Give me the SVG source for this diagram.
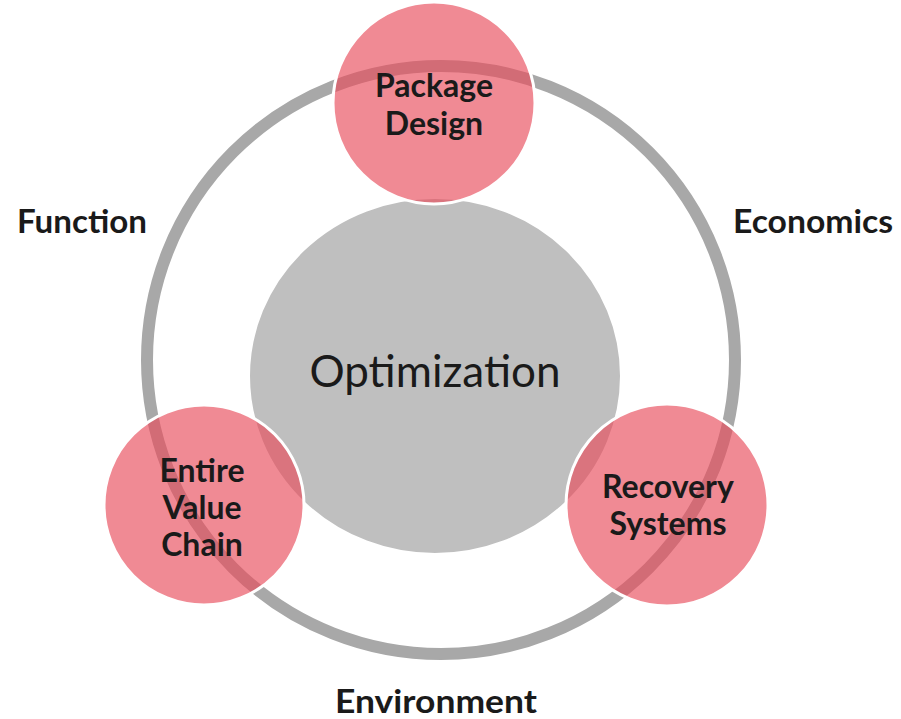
<svg xmlns="http://www.w3.org/2000/svg" width="901" height="719" viewBox="0 0 901 719">
<style>
.pink{fill:#E84B5A;fill-opacity:0.65;stroke:#ffffff;stroke-width:3}
.lbl{font-family:Lato,"Open Sans","Liberation Sans",sans-serif;font-weight:bold;fill:#1a1a1a;text-anchor:middle;font-size:32px}
.side{font-family:Lato,"Open Sans","Liberation Sans",sans-serif;font-weight:bold;fill:#1a1a1a;font-size:33px}
</style>
<rect width="901" height="719" fill="#ffffff"/>
<g id="ring">
<circle cx="441" cy="360" r="294" fill="none" stroke="#A8A8A8" stroke-width="12"/>
</g>
<g id="optimization">
<ellipse cx="435" cy="376" rx="186" ry="178" fill="#BFBFBF" stroke="#ffffff" stroke-width="2"/>
<text x="435" y="387" font-family="Lato,'Open Sans','Liberation Sans',sans-serif" font-size="44" fill="#1a1a1a" text-anchor="middle">Optimization</text>
</g>
<g id="package-design">
<circle class="pink" cx="434" cy="103" r="101"/>
<text class="lbl"><tspan x="434" y="97">Package</tspan><tspan x="434" y="135">Design</tspan></text>
</g>
<g id="entire-value-chain">
<circle class="pink" cx="204" cy="505" r="100"/>
<text class="lbl"><tspan x="202" y="482">Entire</tspan><tspan x="202" y="519">Value</tspan><tspan x="202" y="556">Chain</tspan></text>
</g>
<g id="recovery-systems">
<circle class="pink" cx="667" cy="505" r="101"/>
<text class="lbl"><tspan x="668" y="498">Recovery</tspan><tspan x="668" y="535">Systems</tspan></text>
</g>
<g id="function"><text class="side" x="17" y="233" textLength="130" lengthAdjust="spacingAndGlyphs">Function</text></g>
<g id="economics"><text class="side" x="733" y="233" textLength="160" lengthAdjust="spacingAndGlyphs">Economics</text></g>
<g id="environment"><text class="side" x="335" y="713" textLength="202" lengthAdjust="spacingAndGlyphs">Environment</text></g>
</svg>
